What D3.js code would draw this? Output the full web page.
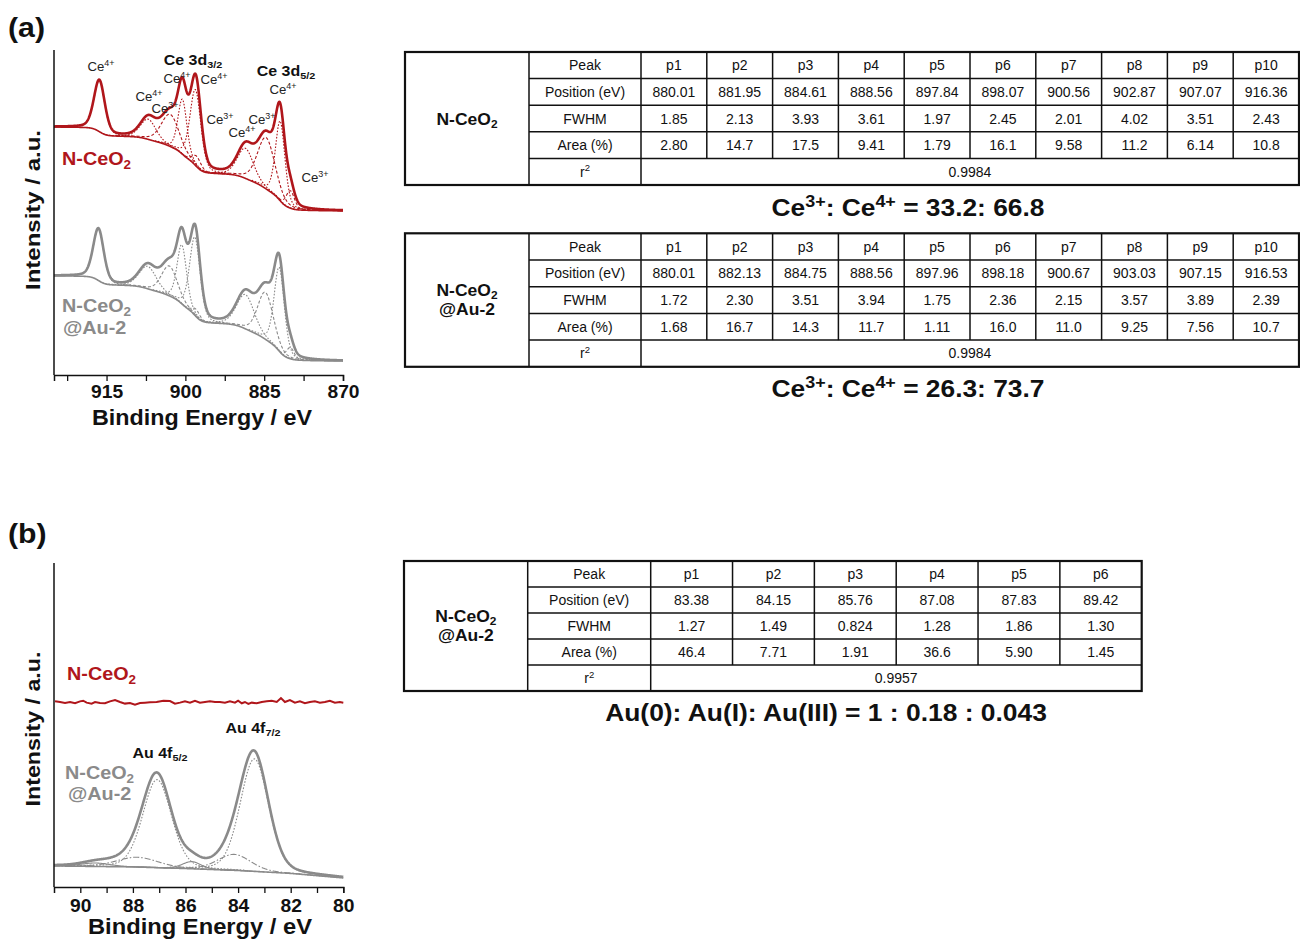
<!DOCTYPE html>
<html>
<head>
<meta charset="utf-8">
<script src="https://cdn.jsdelivr.net/npm/d3@7"></script>
<style>
  body { margin: 0; background: #fff; }
  svg { display: block; }
  text { font-family: "Liberation Sans", Arial, Helvetica, sans-serif; }
</style>
</head>
<body>
<svg id="fig" width="1300" height="941"></svg>
<script>
// ---------------- Ce 3d fit results ----------------
const cePeakNames = ["p1", "p2", "p3", "p4", "p5", "p6", "p7", "p8", "p9", "p10"];
const ceValence   = ["Ce3+", "Ce4+", "Ce3+", "Ce4+", "Ce3+", "Ce4+", "Ce4+", "Ce3+", "Ce4+", "Ce4+"];

const nceCePos  = [880.01, 881.95, 884.61, 888.56, 897.84, 898.07, 900.56, 902.87, 907.07, 916.36];
const nceCeFwhm = [1.85, 2.13, 3.93, 3.61, 1.97, 2.45, 2.01, 4.02, 3.51, 2.43];
const nceCeArea = [2.80, 14.7, 17.5, 9.41, 1.79, 16.1, 9.58, 11.2, 6.14, 10.8];
const nceCeR2   = 0.9984;

const auCePos  = [880.01, 882.13, 884.75, 888.56, 897.96, 898.18, 900.67, 903.03, 907.15, 916.53];
const auCeFwhm = [1.72, 2.30, 3.51, 3.94, 1.75, 2.36, 2.15, 3.57, 3.89, 2.39];
const auCeArea = [1.68, 16.7, 14.3, 11.7, 1.11, 16.0, 11.0, 9.25, 7.56, 10.7];
const auCeR2   = 0.9984;

const ceRatioText = ["33.2: 66.8", "26.3: 73.7"];

// Background level (a.u.) at the high- and low-binding-energy ends of the Ce 3d window
const nceCeBgEnds = [76.3, 50.5];
const auCeBgEnds  = [30.5, 4.3];

// ---------------- Au 4f fit results ----------------
const auPeakNames = ["p1", "p2", "p3", "p4", "p5", "p6"];
const auValence   = ["Au(0)", "Au(I)", "Au(III)", "Au(0)", "Au(I)", "Au(III)"];
const auPos  = [83.38, 84.15, 85.76, 87.08, 87.83, 89.42];
const auFwhm = [1.27, 1.49, 0.824, 1.28, 1.86, 1.30];
const auArea = [46.4, 7.71, 1.91, 36.6, 5.90, 1.45];
const auR2   = 0.9957;
const auRatioText = "Au(0): Au(I): Au(III) = 1 : 0.18 : 0.043";

// Au 4f background of N-CeO2@Au-2
const auBgEnergy = [91, 88, 86, 84, 82, 80];
const auBgLevel  = [6.5, 6.2, 5.7, 5.1, 4.2, 2.8];

// N-CeO2 in the Au 4f window (no gold signal)
const nceAuEnergy = [90.96, 90.77, 90.58, 90.39, 90.20, 90.01, 89.89, 89.76, 89.57, 89.44,
  89.25, 89.06, 88.87, 88.68, 88.49, 88.30, 88.11, 87.92, 87.73, 87.54,
  87.35, 87.10, 86.84, 86.59, 86.40, 86.21, 86.02, 85.83, 85.64, 85.45,
  85.26, 85.07, 84.88, 84.69, 84.50, 84.31, 84.12, 84.00, 83.86, 83.74,
  83.61, 83.48, 83.29, 83.10, 82.91, 82.72, 82.53, 82.37, 82.22, 82.03,
  81.84, 81.65, 81.46, 81.27, 81.08, 80.89, 80.70, 80.51, 80.32, 80.13, 80.00];
const nceAuLevel = [57.3, 57.1, 56.8, 57.1, 56.7, 57.3, 57.5, 56.9, 56.6, 57.1,
  56.8, 56.7, 57.3, 57.7, 57.1, 56.6, 56.8, 56.3, 56.8, 56.9,
  57.0, 57.1, 57.5, 57.4, 56.6, 56.9, 57.3, 56.9, 57.5, 56.9,
  57.1, 57.3, 57.1, 57.1, 56.9, 57.3, 56.9, 57.5, 56.7, 57.1,
  56.5, 56.9, 56.7, 57.1, 57.3, 57.5, 57.1, 58.3, 57.1, 57.7,
  56.9, 57.3, 56.7, 57.1, 57.3, 56.9, 57.1, 57.5, 56.9, 57.1, 56.9];

// ---------------- styling ----------------
const RED = "#b0161b";
const GREY = "#8a8a8a";
const INK = "#111";
const CE_HEIGHT = 3.55;  // peak height per (area % / FWHM)
const AU_HEIGHT = 0.95;
const CE_ETA = 0.3;      // Lorentzian fraction of the pseudo-Voigt line shape
const AU_ETA = 0.2;
const SX = 1.1;          // horizontal stretch of the plot lettering

const svg = d3.select("#fig");
svg.append("rect").attr("width", 1300).attr("height", 941).attr("fill", "#fff");

// text with sub/superscripts: parts = [[string, "sup"|"sub"|null], ...]
function rich(sel, parts, size) {
  let shift = 0;
  parts.forEach(([s, kind]) => {
    const target = kind === "sup" ? -size * 0.38 : kind === "sub" ? size * 0.2 : 0;
    const t = sel.append("tspan").text(s).attr("dy", target - shift);
    if (kind) t.attr("font-size", size * 0.68);
    shift = target;
  });
  return sel;
}
function label(g, x, y, parts, size, opts = {}) {
  const sx = opts.sx == null ? SX : opts.sx;
  const t = g.append("text").attr("x", 0).attr("y", 0)
    .attr("transform", `translate(${x},${y}) scale(${sx},1)`)
    .attr("font-size", size)
    .attr("font-weight", opts.bold ? "bold" : "normal")
    .attr("fill", opts.fill || INK)
    .attr("text-anchor", opts.anchor || "middle");
  return rich(t, parts, size);
}
// centred text squeezed/stretched to a given width
function fitted(g, cx, cy, parts, size, width, rotate = 0) {
  const t = g.append("text").attr("x", 0).attr("y", 0).attr("text-anchor", "middle")
    .attr("font-size", size).attr("font-weight", "bold").attr("fill", INK);
  rich(t, parts, size);
  const w = t.node().getBBox().width;
  t.attr("transform", `translate(${cx},${cy}) rotate(${rotate}) scale(${width / w},1)`);
  return t;
}
const supIon = v => [["Ce", null], [v.replace("Ce", ""), "sup"]];

// pseudo-Voigt profile with unit peak height
const pvoigt = (E, c, f, h, eta) => {
  const u = (E - c) * (E - c) / (f * f);
  return h * (eta / (1 + 4 * u) + (1 - eta) * Math.exp(-4 * Math.LN2 * u));
};

// Shirley-type background from the summed fit peaks
function shirley(grid, total, hi, lo) {
  const cum = [0];
  for (let i = 1; i < grid.length; i++) {
    cum.push(cum[i - 1] + (total[i] + total[i - 1]) / 2 * (grid[i] - grid[i - 1]));
  }
  const last = cum[cum.length - 1];
  return cum.map(c => lo + (hi - lo) * c / last);
}

// ================= panel (a): Ce 3d =================
const gA = svg.append("g");
const xA = d3.scaleLinear().domain([925, 870]).range([54, 343]);
const yA = d3.scaleLinear().domain([0, 100]).range([375, 50]);
const gridA = d3.range(870, 925.0001, 0.05);
const lineA = d3.line().x(d => xA(d[0])).y(d => yA(d[1]));

function drawCe(pos, fwhm, area, bgEnds, color) {
  const heights = area.map((a, i) => CE_HEIGHT * a / fwhm[i]);
  const total = gridA.map(E => d3.sum(pos, (c, i) => pvoigt(E, c, fwhm[i], heights[i], CE_ETA)));
  const bg = shirley(gridA, total, bgEnds[0], bgEnds[1]);
  const bgAt = d3.scaleLinear().domain(gridA).range(bg);

  // component peaks
  pos.forEach((c, i) => {
    const pts = gridA.filter(E => Math.abs(E - c) <= 2.6 * fwhm[i])
      .map(E => [E, bgAt(E) + pvoigt(E, c, fwhm[i], heights[i], CE_ETA)]);
    gA.append("path").attr("d", lineA(pts)).attr("fill", "none")
      .attr("stroke", color).attr("stroke-width", 1.1)
      .attr("stroke-dasharray", ceValence[i] === "Ce3+" ? "3,2" : "1.6,1.6");
  });
  // background
  gA.append("path").attr("d", lineA(gridA.map((E, i) => [E, bg[i]])))
    .attr("fill", "none").attr("stroke", color).attr("stroke-width", 1.6);
  // envelope
  gA.append("path").attr("d", lineA(gridA.map((E, i) => [E, bg[i] + total[i]])))
    .attr("fill", "none").attr("stroke", color).attr("stroke-width", 2.6)
    .attr("stroke-linejoin", "round");
}
drawCe(nceCePos, nceCeFwhm, nceCeArea, nceCeBgEnds, RED);
drawCe(auCePos, auCeFwhm, auCeArea, auCeBgEnds, GREY);

function styleAxis(ax) {
  ax.select(".domain").attr("stroke", INK).attr("stroke-width", 1.5);
  ax.selectAll(".tick line").attr("stroke", INK).attr("stroke-width", 1.3);
  ax.selectAll(".tick text").attr("font-size", 17.5).attr("font-weight", "bold")
    .attr("fill", INK).attr("font-family", "Liberation Sans, Arial, sans-serif")
    .attr("transform", `scale(${SX},1)`);
}

// axes (a)
gA.append("line").attr("x1", 54).attr("x2", 54).attr("y1", 50).attr("y2", 375)
  .attr("stroke", INK).attr("stroke-width", 1.5);
const axA = gA.append("g").attr("transform", "translate(0,375)")
  .call(d3.axisBottom(xA).tickValues(d3.range(922.5, 869.9, -7.5)).tickSizeOuter(0).tickSize(6)
    .tickPadding(5).tickFormat(d => (d % 15 === 0 ? d : "")));
styleAxis(axA);

fitted(gA, 202, 425, [["Binding Energy / eV", null]], 21.5, 221);
fitted(gA, 40, 210, [["Intensity / a.u.", null]], 21, 160, -90);
label(gA, 8, 37, [["(a)", null]], 27.5, { bold: true, anchor: "start" });

// peak annotations (a)
label(gA, 193, 65, [["Ce 3d", null], ["3/2", "sub"]], 14.5, { bold: true });
label(gA, 286, 76, [["Ce 3d", null], ["5/2", "sub"]], 14.5, { bold: true });
[
  [101, 71, "Ce4+"], [177, 83, "Ce4+"], [214, 84, "Ce4+"], [149, 101, "Ce4+"],
  [165, 113, "Ce3+"], [220, 124, "Ce3+"], [283, 94, "Ce4+"], [262, 124, "Ce3+"],
  [242, 137, "Ce4+"], [315, 182, "Ce3+"]
].forEach(([x, y, s]) => label(gA, x, y, supIon(s), 12, { fill: "#222" }));

label(gA, 62, 165, [["N-CeO", null], ["2", "sub"]], 18, { bold: true, fill: RED, anchor: "start" });
label(gA, 62, 312, [["N-CeO", null], ["2", "sub"]], 18, { bold: true, fill: GREY, anchor: "start" });
label(gA, 63, 334, [["@Au-2", null]], 18, { bold: true, fill: GREY, anchor: "start" });

// ================= panel (b): Au 4f =================
const gB = svg.append("g");
const xB = d3.scaleLinear().domain([91, 80]).range([54, 343.3]);
const yB = d3.scaleLinear().domain([0, 100]).range([887, 563]);
const gridB = d3.range(80, 91.0001, 0.02);
const lineB = d3.line().x(d => xB(d[0])).y(d => yB(d[1]));
const auBg = d3.scaleLinear().domain(auBgEnergy).range(auBgLevel);
const auHeights = auArea.map((a, i) => AU_HEIGHT * a / auFwhm[i]);
const auTotal = gridB.map(E => d3.sum(auPos, (c, i) => pvoigt(E, c, auFwhm[i], auHeights[i], AU_ETA)));
const auDash = { "Au(0)": "1.6,1.6", "Au(I)": "6,2,1.5,2", "Au(III)": null };

auPos.forEach((c, i) => {
  const pts = gridB.filter(E => Math.abs(E - c) <= 2.6 * auFwhm[i])
    .map(E => [E, auBg(E) + pvoigt(E, c, auFwhm[i], auHeights[i], AU_ETA)]);
  gB.append("path").attr("d", lineB(pts)).attr("fill", "none")
    .attr("stroke", GREY).attr("stroke-width", 1.1)
    .attr("stroke-dasharray", auDash[auValence[i]]);
});
gB.append("path").attr("d", lineB(gridB.map(E => [E, auBg(E)])))
  .attr("fill", "none").attr("stroke", GREY).attr("stroke-width", 1.6);
gB.append("path").attr("d", lineB(gridB.map((E, i) => [E, auBg(E) + auTotal[i]])))
  .attr("fill", "none").attr("stroke", GREY).attr("stroke-width", 2.6);
gB.append("path").attr("d", lineB(nceAuEnergy.map((E, i) => [E, nceAuLevel[i]])))
  .attr("fill", "none").attr("stroke", RED).attr("stroke-width", 2);

gB.append("line").attr("x1", 54).attr("x2", 54).attr("y1", 563).attr("y2", 887)
  .attr("stroke", INK).attr("stroke-width", 1.5);
const axB = gB.append("g").attr("transform", "translate(0,887)")
  .call(d3.axisBottom(xB).tickValues(d3.range(90, 79.9, -1)).tickSizeOuter(0).tickSize(6)
    .tickPadding(7).tickFormat(d => (d % 2 === 0 ? d : "")));
styleAxis(axB);

fitted(gB, 200, 934, [["Binding Energy / eV", null]], 21.5, 225);
fitted(gB, 40, 729, [["Intensity / a.u.", null]], 21, 155, -90);
label(gB, 8, 543, [["(b)", null]], 27.5, { bold: true, anchor: "start" });

label(gB, 253, 733, [["Au 4f", null], ["7/2", "sub"]], 14.5, { bold: true });
label(gB, 160, 758, [["Au 4f", null], ["5/2", "sub"]], 14.5, { bold: true });
label(gB, 67, 680, [["N-CeO", null], ["2", "sub"]], 18, { bold: true, fill: RED, anchor: "start" });
label(gB, 65, 779, [["N-CeO", null], ["2", "sub"]], 18, { bold: true, fill: GREY, anchor: "start" });
label(gB, 68, 800, [["@Au-2", null]], 18, { bold: true, fill: GREY, anchor: "start" });

// ================= fit tables =================
const fmtPos = d3.format(".2f");
const fmtSig = d3.format(".3r");
const fmtR2 = d3.format(".4f");

function drawTable(o) {
  const g = svg.append("g");
  const n = o.names.length;
  const colW = (o.xEnd - o.xPeak) / n;
  const yAt = k => o.y0 + k * o.rowH;
  const y1 = yAt(5);
  const rows = [
    ["Peak", o.names],
    ["Position (eV)", o.pos.map(fmtPos)],
    ["FWHM", o.fwhm.map(fmtSig)],
    ["Area (%)", o.area.map(fmtSig)]
  ];
  // inner grid
  for (let k = 1; k < 5; k++) {
    g.append("line").attr("x1", o.xLabel).attr("x2", o.xEnd).attr("y1", yAt(k)).attr("y2", yAt(k))
      .attr("stroke", INK).attr("stroke-width", 1.5);
  }
  [o.xLabel, o.xPeak].forEach(x => g.append("line").attr("x1", x).attr("x2", x)
    .attr("y1", o.y0).attr("y2", y1).attr("stroke", INK).attr("stroke-width", 1.5));
  for (let j = 1; j < n; j++) {
    const x = o.xPeak + j * colW;
    g.append("line").attr("x1", x).attr("x2", x).attr("y1", o.y0).attr("y2", yAt(4))
      .attr("stroke", INK).attr("stroke-width", 1.5);
  }
  g.append("rect").attr("x", o.x0).attr("y", o.y0).attr("width", o.xEnd - o.x0).attr("height", y1 - o.y0)
    .attr("fill", "none").attr("stroke", INK).attr("stroke-width", 2.2);

  const cellText = (x, k, s) => g.append("text").attr("x", x).attr("y", yAt(k) + o.rowH / 2 + 5)
    .attr("text-anchor", "middle").attr("font-size", 14).attr("fill", INK).text(s);
  rows.forEach(([head, vals], k) => {
    cellText((o.xLabel + o.xPeak) / 2, k, head);
    vals.forEach((v, j) => cellText(o.xPeak + (j + 0.5) * colW, k, v));
  });
  const r2 = g.append("text").attr("x", (o.xLabel + o.xPeak) / 2).attr("y", yAt(4) + o.rowH / 2 + 5)
    .attr("text-anchor", "middle").attr("font-size", 14).attr("fill", INK);
  rich(r2, [["r", null], ["2", "sup"]], 14);
  cellText((o.xPeak + o.xEnd) / 2, 4, fmtR2(o.r2));

  // sample name
  const cx = (o.x0 + o.xLabel) / 2, cy = (o.y0 + y1) / 2;
  if (o.twoLine) {
    label(g, cx, cy - 4, [["N-CeO", null], ["2", "sub"]], 16.5, { bold: true, sx: 1.06 });
    label(g, cx, cy + 15, [["@Au-2", null]], 16.5, { bold: true, sx: 1.06 });
  } else {
    label(g, cx, cy + 6, [["N-CeO", null], ["2", "sub"]], 16.5, { bold: true, sx: 1.06 });
  }
  return g;
}

drawTable({ x0: 405, xLabel: 529, xPeak: 641, xEnd: 1299, y0: 52, rowH: 26.6,
  names: cePeakNames, pos: nceCePos, fwhm: nceCeFwhm, area: nceCeArea, r2: nceCeR2, twoLine: false });
drawTable({ x0: 405, xLabel: 529, xPeak: 641, xEnd: 1299, y0: 233.3, rowH: 26.7,
  names: cePeakNames, pos: auCePos, fwhm: auCeFwhm, area: auCeArea, r2: auCeR2, twoLine: true });
drawTable({ x0: 404, xLabel: 527.7, xPeak: 650.7, xEnd: 1141.7, y0: 561, rowH: 26,
  names: auPeakNames, pos: auPos, fwhm: auFwhm, area: auArea, r2: auR2, twoLine: true });

// valence-state ratios
[[216, ceRatioText[0]], [397, ceRatioText[1]]].forEach(([y, s]) => {
  fitted(svg, 908, y, [["Ce", null], ["3+", "sup"], [": Ce", null], ["4+", "sup"], [" = " + s, null]],
    24, 273);
});
fitted(svg, 826, 721, [[auRatioText, null]], 24, 442);
</script>
</body>
</html>
